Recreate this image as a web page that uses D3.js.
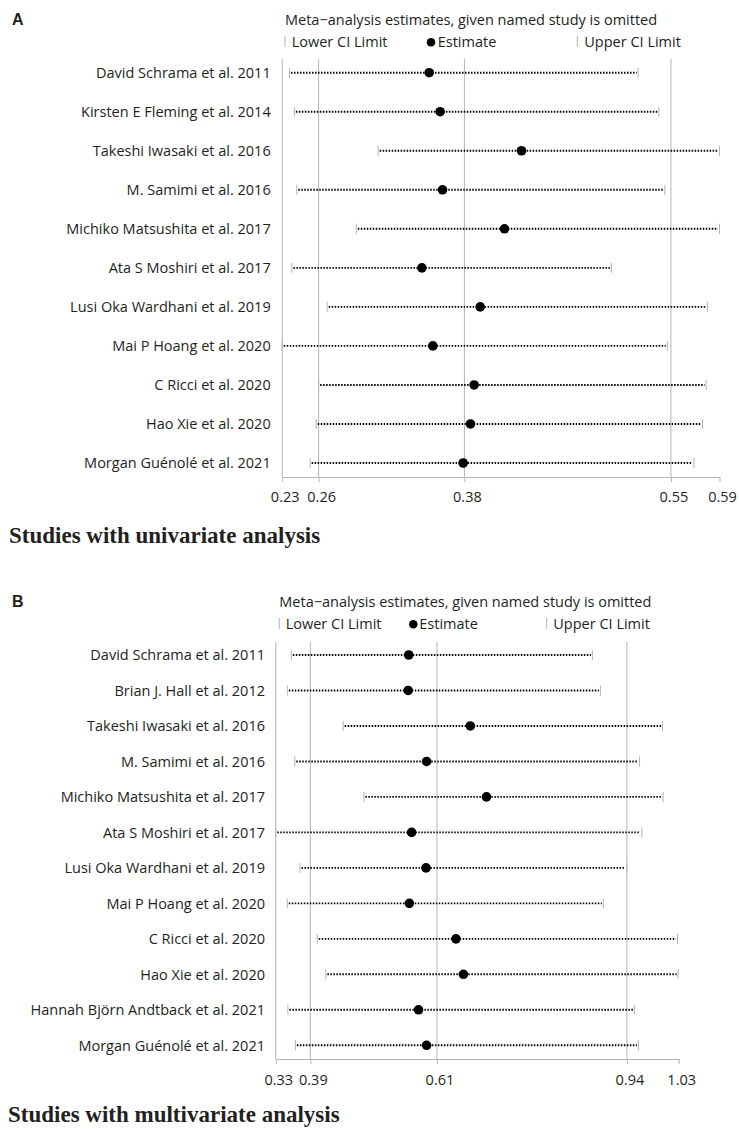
<!DOCTYPE html>
<html>
<head>
<meta charset="utf-8">
<script src="https://cdn.jsdelivr.net/npm/d3@7"></script>
<style>
  html, body { margin: 0; padding: 0; background: #fff; }
  svg { display: block; }
  text { font-family: "Open Sans", "Noto Sans", sans-serif; fill: #231f20; }
</style>
</head>
<body>
<svg id="chart" width="739" height="1129"></svg>
<script>
// ---- Panel A: studies with univariate analysis ----
const studiesA = [
  "David Schrama et al. 2011",
  "Kirsten E Fleming et al. 2014",
  "Takeshi Iwasaki et al. 2016",
  "M. Samimi et al. 2016",
  "Michiko Matsushita et al. 2017",
  "Ata S Moshiri et al. 2017",
  "Lusi Oka Wardhani et al. 2019",
  "Mai P Hoang et al. 2020",
  "C Ricci et al. 2020",
  "Hao Xie et al. 2020",
  "Morgan Guénolé et al. 2021"
];
const lowerA    = [0.236, 0.240, 0.309, 0.242, 0.291, 0.238, 0.267, 0.230, 0.260, 0.258, 0.253];
const estimateA = [0.351, 0.360, 0.427, 0.362, 0.413, 0.345, 0.393, 0.354, 0.388, 0.385, 0.379];
const upperA    = [0.523, 0.540, 0.590, 0.545, 0.590, 0.501, 0.580, 0.547, 0.579, 0.576, 0.569];
const ticksA    = [0.23, 0.26, 0.38, 0.55, 0.59];

// ---- Panel B: studies with multivariate analysis ----
const studiesB = [
  "David Schrama et al. 2011",
  "Brian J. Hall et al. 2012",
  "Takeshi Iwasaki et al. 2016",
  "M. Samimi et al. 2016",
  "Michiko Matsushita et al. 2017",
  "Ata S Moshiri et al. 2017",
  "Lusi Oka Wardhani et al. 2019",
  "Mai P Hoang et al. 2020",
  "C Ricci et al. 2020",
  "Hao Xie et al. 2020",
  "Hannah Björn Andtback et al. 2021",
  "Morgan Guénolé et al. 2021"
];
const lowerB    = [0.357, 0.350, 0.447, 0.363, 0.483, 0.330, 0.372, 0.350, 0.402, 0.417, 0.351, 0.364];
const estimateB = [0.561, 0.560, 0.668, 0.592, 0.696, 0.566, 0.591, 0.562, 0.643, 0.656, 0.578, 0.592];
const upperB    = [0.880, 0.894, 1.002, 0.962, 1.003, 0.966, 0.940, 0.899, 1.028, 1.029, 0.953, 0.960];
const ticksB    = [0.33, 0.39, 0.61, 0.94, 1.03];

const headerText = "Meta\u2212analysis estimates, given named study is omitted";

const svg = d3.select("#chart");
const gridColor = "#b4b4b4";

function drawPanel(p) {
  const g = svg.append("g");
  const rows = p.studies.map((s, i) => ({
    study: s, lower: p.lower[i], est: p.est[i], upper: p.upper[i]
  }));

  const x = d3.scaleLinear().domain(d3.extent(p.ticks)).range(p.xRange);
  const y = d3.scalePoint().domain(p.studies)
    .range([p.rowFirst, p.rowFirst + (p.studies.length - 1) * p.rowStep]);

  // panel letter
  g.append("text").attr("x", 12).attr("y", p.headerBaseline)
    .style("font-family", "'Liberation Sans', Arial, sans-serif")
    .style("font-weight", "bold").style("font-size", "16px").text(p.letter);

  // header + legend
  g.append("text").attr("x", p.headerX).attr("y", p.headerBaseline)
    .style("font-size", "14.5px").text(headerText);

  const lg = g.append("g");
  [p.legend.barL, p.legend.barU].forEach(bx => {
    lg.append("line").attr("x1", bx).attr("x2", bx)
      .attr("y1", p.legendBaseline - 11).attr("y2", p.legendBaseline)
      .attr("stroke", gridColor).attr("stroke-width", 1);
  });
  lg.append("circle").attr("cx", p.legend.dot).attr("cy", p.legendBaseline - 4.8)
    .attr("r", 4.3).attr("fill", "#000");
  lg.append("text").attr("x", p.legend.textL).attr("y", p.legendBaseline)
    .style("font-size", "14.5px").text("Lower CI Limit");
  lg.append("text").attr("x", p.legend.textE).attr("y", p.legendBaseline)
    .style("font-size", "14.5px").text("Estimate");
  lg.append("text").attr("x", p.legend.textU).attr("y", p.legendBaseline)
    .style("font-size", "14.5px").text("Upper CI Limit");

  // vertical reference lines at every tick except the axis maximum
  const xMax = d3.max(p.ticks);
  g.append("g").selectAll("line")
    .data(p.ticks.filter(t => t !== xMax))
    .join("line")
    .attr("x1", d => x(d)).attr("x2", d => x(d))
    .attr("y1", p.gridTop).attr("y2", p.axisY)
    .attr("stroke", gridColor).attr("stroke-width", 1);

  // bottom axis
  const axis = d3.axisBottom(x).tickValues(p.ticks)
    .tickFormat(d3.format(".2f")).tickSize(5).tickSizeOuter(0).tickPadding(p.tickPad);
  const ag = g.append("g").attr("transform", `translate(0,${p.axisY})`).call(axis);
  ag.select(".domain").attr("stroke", gridColor);
  ag.selectAll(".tick line").attr("stroke", gridColor);
  ag.selectAll(".tick text")
    .attr("dx", 2.5)
    .style("font-family", "'Open Sans', sans-serif")
    .style("font-size", "14.5px").attr("fill", "#231f20");

  // study labels
  g.append("g").selectAll("text").data(rows).join("text")
    .attr("x", p.labelRight).attr("y", d => y(d.study))
    .attr("dy", "0.36em").attr("text-anchor", "end")
    .style("font-size", "14.5px").text(d => d.study);

  // CI lines (dotted)
  g.append("g").selectAll("line").data(rows).join("line")
    .attr("x1", d => x(d.lower) + 1.5).attr("x2", d => x(d.upper) - 1.5)
    .attr("y1", d => y(d.study)).attr("y2", d => y(d.study))
    .attr("stroke", "#000").attr("stroke-width", 1.9)
    .attr("stroke-dasharray", "1.5 1.5");

  // CI end caps
  const caps = g.append("g");
  caps.selectAll("line.lo").data(rows).join("line").attr("class", "lo")
    .attr("x1", d => x(d.lower)).attr("x2", d => x(d.lower))
    .attr("y1", d => y(d.study) - 5).attr("y2", d => y(d.study) + 5)
    .attr("stroke", gridColor).attr("stroke-width", 1);
  caps.selectAll("line.hi").data(rows).join("line").attr("class", "hi")
    .attr("x1", d => x(d.upper)).attr("x2", d => x(d.upper))
    .attr("y1", d => y(d.study) - 5).attr("y2", d => y(d.study) + 5)
    .attr("stroke", gridColor).attr("stroke-width", 1);

  // point estimates
  g.append("g").selectAll("circle").data(rows).join("circle")
    .attr("cx", d => x(d.est)).attr("cy", d => y(d.study))
    .attr("r", 4.8).attr("fill", "#000");

  // panel caption
  g.append("text").attr("x", p.titleX).attr("y", p.titleBaseline)
    .style("font-family", "'Liberation Serif', 'Times New Roman', serif")
    .style("font-weight", "bold").style("font-size", "23px").attr("fill", "#000")
    .text(p.title);
}

drawPanel({
  letter: "A", title: "Studies with univariate analysis",
  studies: studiesA, lower: lowerA, est: estimateA, upper: upperA, ticks: ticksA,
  xRange: [282.2, 719.5], rowFirst: 72.7, rowStep: 39.03,
  gridTop: 59, axisY: 477, tickPad: 10, labelRight: 270.7,
  headerX: 285, headerBaseline: 25, legendBaseline: 47,
  legend: { barL: 285, textL: 291.7, dot: 431, textE: 437.7, barU: 577.3, textU: 584.3 },
  titleX: 9, titleBaseline: 542.7
});

drawPanel({
  letter: "B", title: "Studies with multivariate analysis",
  studies: studiesB, lower: lowerB, est: estimateB, upper: upperB, ticks: ticksB,
  xRange: [275.8, 678.7], rowFirst: 655, rowStep: 35.48,
  gridTop: 641.7, axisY: 1059, tickPad: 11, labelRight: 265,
  headerX: 279.3, headerBaseline: 607, legendBaseline: 629,
  legend: { barL: 279.3, textL: 285.7, dot: 413.3, textE: 419.3, barU: 546.7, textU: 553.3 },
  titleX: 8, titleBaseline: 1122
});
</script>
</body>
</html>
